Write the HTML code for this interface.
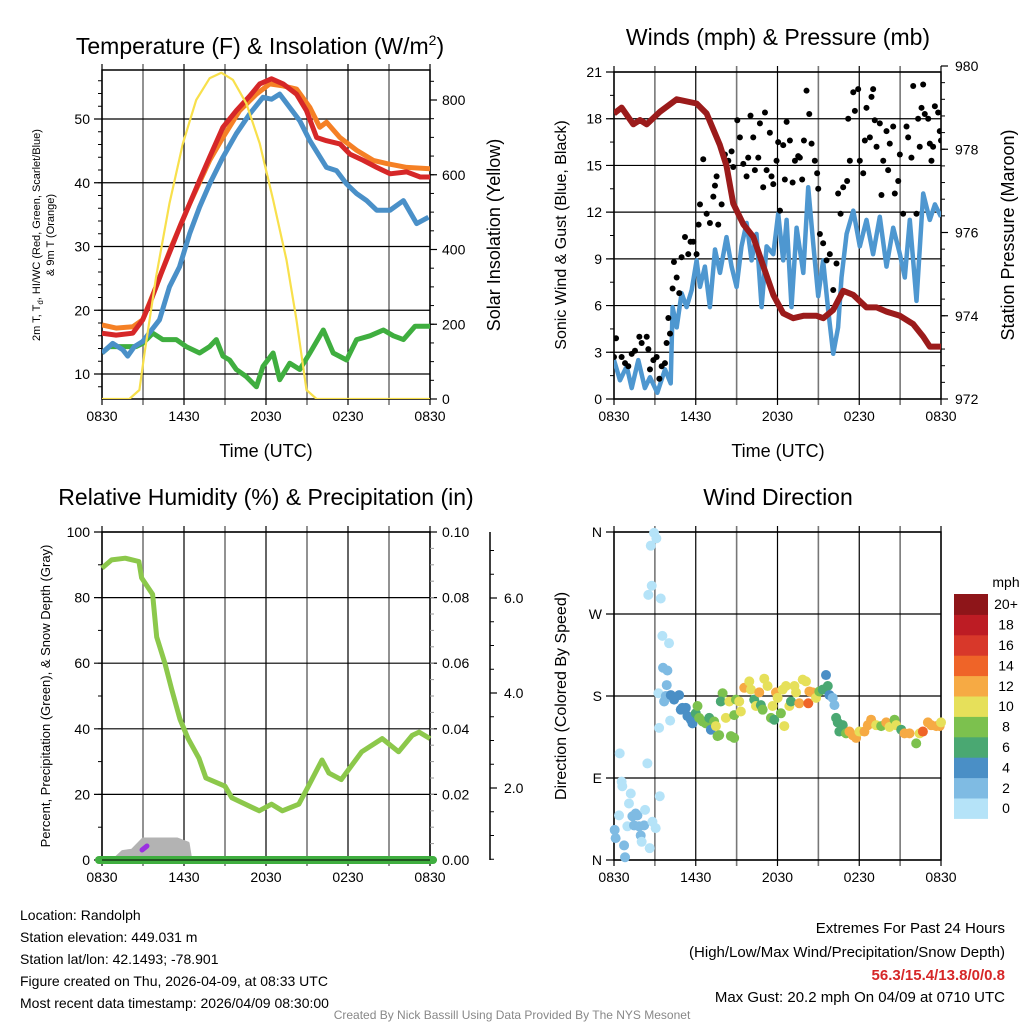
<!DOCTYPE html>
<html><head><meta charset="utf-8"><style>
html,body{margin:0;padding:0;background:#fff;}
svg{display:block;font-family:"Liberation Sans",sans-serif;}
</style></head><body>
<svg id="c" width="1024" height="1024" viewBox="0 0 1024 1024"></svg>
<script>
// ---------- DATA ----------
const xTickLabels=["0830","1430","2030","0230","0830"];
const redHours=[0,1.03,2.25,2.98,3.59,4.33,5.06,5.79,6.41,7.14,7.87,8.85,9.83,10.81,11.54,12.4,13.25,14.23,14.96,15.7,16.43,17.41,18.14,19.12,20.1,21.08,22.3,23.28,24];
const redTemps=[16.4,16.1,16.4,18.5,21.6,25.8,29.7,33.6,36.7,40.4,44,48.7,51.3,53.6,55.5,56.3,55.5,53.9,51.3,47.1,46.6,46.1,44.5,43.5,42.4,41.4,41.7,40.9,40.9];
const orangeHours=[0,1.03,2.25,2.98,3.96,5.06,6.41,7.87,8.85,10.07,11.3,12.27,13.25,14.23,15.21,15.94,16.43,17.41,18.63,19.85,20.83,22.3,24];
const orangeTemps=[17.7,17.2,17.4,18.5,23.7,29.9,36.7,43.5,47.1,51.3,53.9,55.5,55.2,54.7,51.8,48.7,49.5,47.1,45.1,43.5,43.0,42.4,42.2];
const blueHours=[0,0.78,1.52,1.88,2.37,2.98,4.21,4.94,5.67,6.41,7.14,7.87,8.85,9.83,10.81,11.78,12.4,13.0,13.74,14.47,15.21,15.82,16.43,17.16,17.9,18.63,19.36,20.1,21.08,22.05,23.03,23.89];
const blueTemps=[13.3,14.8,13.8,12.8,14.3,15.1,18.5,23.7,26.8,32,36.2,39.8,44,47.7,50.8,53.4,53.1,53.9,51.8,49.7,46.6,44.5,42.4,41.9,39.8,38.3,37.2,35.7,35.7,37.2,33.6,34.6];
const greenHours=[0,0.54,1.52,2.49,2.98,3.72,4.45,5.43,6.16,7.14,7.87,8.36,8.85,9.34,9.83,10.56,11.3,11.78,12.52,13.0,13.74,14.47,15.21,16.19,16.92,17.9,18.63,19.61,20.59,21.32,22.05,22.91,24];
const greenTemps=[13.3,14.3,14.3,14.3,14.8,16.4,15.4,15.4,14.3,13.3,14.3,15.4,12.8,12.2,10.7,9.6,8.0,11.2,13.3,9.1,11.7,10.7,13.3,16.9,13.3,12.2,15.4,16.0,16.9,16.0,15.4,17.5,17.5];
const solarHours=[0,2.0,2.74,3.11,3.96,4.94,5.92,6.89,7.87,8.73,9.58,10.56,11.54,12.52,13.5,14.23,14.96,15.7,24];
const solarValues=[0,0,24,122,327,524,684,800,858,873,854,791,684,533,372,211,24,0,0];
const pressHours=[0,0.56,1.42,1.91,2.4,3.37,4.6,6.06,6.8,7.77,8.26,8.75,9.49,10.22,10.95,11.69,12.42,13.15,13.89,14.87,15.36,16.09,16.82,17.56,18.53,19.27,20.0,20.98,21.96,22.69,23.18,24];
const pressValues=[978.86,979.0,978.6,978.7,978.6,978.9,979.2,979.1,978.86,978.1,977.6,976.7,976.2,975.9,975.2,974.5,974.06,973.94,974.0,974.0,973.94,974.14,974.6,974.5,974.2,974.2,974.1,974.0,973.8,973.5,973.26,973.26];
const windHours=[0,0.44,0.93,1.30,1.78,2.27,2.64,3.18,3.74,4.16,4.30,4.60,4.96,5.33,5.70,6.06,6.31,6.67,7.04,7.41,7.78,8.26,8.63,9.0,9.36,9.73,10.10,10.46,10.83,11.20,11.69,12.05,12.42,12.67,13.03,13.40,13.89,14.25,14.62,14.99,15.35,15.72,16.09,16.45,16.70,17.07,17.56,18.04,18.53,19.02,19.51,20.0,20.49,20.98,21.34,21.71,22.20,22.69,23.18,23.55,24];
const windSpeeds=[2.5,1.2,2.1,0.7,2.5,0.7,1.4,0.4,1.9,1.0,5.9,4.6,6.8,5.9,7.0,8.9,7.2,8.5,5.9,9.6,8.1,10.4,8.5,7.2,9.8,11.3,8.9,10.6,5.9,9.8,9.3,11.9,8.9,11.5,5.9,11.0,8.1,13.6,10.0,6.6,8.9,5.7,2.9,4.6,7.8,10.6,12.1,9.8,11.5,9.3,11.7,8.5,11.0,9.3,7.8,11.5,6.3,13.2,11.5,12.5,11.7];
const gustHours=[0,0.15,0.56,0.81,1.05,1.3,1.54,1.86,2.03,2.4,2.52,2.64,2.89,3.13,3.33,3.5,3.74,3.86,3.99,4.11,4.3,4.4,4.6,4.79,4.96,5.21,5.45,5.62,5.82,6.06,6.21,6.31,6.55,6.8,7.04,7.29,7.41,7.53,7.65,7.9,8.14,8.39,8.63,8.75,9.05,9.24,9.49,9.73,9.85,10.02,10.22,10.34,10.59,10.71,10.95,11.08,11.2,11.44,11.56,11.69,11.93,12.05,12.18,12.42,12.54,12.67,12.91,13.11,13.28,13.52,13.64,13.81,13.94,14.13,14.33,14.5,14.74,14.91,14.99,15.11,15.35,15.6,15.84,16.09,16.33,16.45,16.63,16.82,17.11,17.19,17.31,17.56,17.68,17.92,18.04,18.29,18.41,18.53,18.78,18.9,19.02,19.14,19.27,19.51,19.63,19.76,20.0,20.12,20.24,20.49,20.61,20.86,20.98,21.22,21.47,21.59,21.83,21.96,22.2,22.32,22.44,22.57,22.69,22.81,23.06,23.18,23.3,23.42,23.55,23.79,23.91,24];
const gustSpeeds=[2.7,3.9,2.7,2.3,2.1,2.9,3.1,4.0,3.6,4.0,3.2,1.9,2.5,2.7,1.3,2.1,2.3,3.6,5.2,4.2,7.1,8.8,7.8,6.8,9.1,10.4,9.3,10.1,10.1,9.3,11.2,12.5,15.4,11.9,11.3,13.0,13.7,14.3,11.2,12.5,15.7,15.3,15.9,14.9,17.9,16.8,15.1,14.3,15.5,18.2,16.8,14.7,15.5,17.7,13.6,18.4,14.7,17.1,14.3,13.8,15.3,16.5,12.1,16.3,14.1,17.8,16.6,13.9,15.3,15.6,15.5,14.1,16.6,19.8,18.3,16.4,15.3,14.5,13.5,10.6,10.0,8.9,9.3,7.0,8.7,13.2,11.9,13.6,14.0,18.0,15.3,19.7,18.5,19.9,15.3,14.5,16.6,18.7,16.8,19.4,19.9,17.9,16.2,17.7,13.1,15.3,17.2,14.7,16.4,17.5,13.2,14.0,15.7,11.9,17.5,16.8,15.5,20.1,11.9,18.0,16.2,18.7,20.2,18.3,18.0,16.4,15.3,16.2,18.8,18.4,17.2,16.6];
const rhHours=[0,0.7,1.7,2.7,2.9,3.7,4.0,4.6,5.1,5.7,6.3,7.1,7.6,9.0,9.5,11.5,12.4,13.2,14.4,15.1,16.1,16.6,17.5,19.0,20.5,21.7,22.7,23.2,24];
const rhValues=[89,91.5,92,91,86,81,68,60,52,43,37,31,25,22.5,19,15,17,15,17,22.5,30.5,26.5,24.5,33,37,33,38,39,37];
const snowHours=[0.9,1.5,2.2,3.0,5.5,6.3,6.5];
const snowDepth=[0.03,0.3,0.35,0.75,0.75,0.6,0];
const dirHours=[0.05,0.12,0.37,0.42,0.56,0.61,0.74,0.81,0.98,1.10,1.23,1.35,1.47,1.59,1.72,1.84,1.96,2.03,2.21,2.28,2.45,2.62,2.82,2.94,3.11,2.70,2.77,2.52,3.06,3.36,3.43,3.31,3.55,4.04,3.60,3.92,3.87,4.12,3.26,3.68,3.80,4.17,4.41,4.78,4.90,5.02,5.27,5.39,5.64,5.76,6.00,6.13,6.25,6.50,6.74,6.99,7.11,7.35,7.48,7.60,7.72,7.97,7.84,8.21,8.46,8.58,8.82,8.82,8.95,9.19,9.31,9.56,9.93,10.05,10.29,10.42,10.66,10.78,10.91,11.03,11.27,11.52,11.64,11.76,11.89,12.01,12.25,12.38,12.50,12.62,12.87,12.99,13.24,13.36,13.60,13.85,14.09,14.26,14.34,14.58,14.83,15.07,15.32,15.56,15.69,15.81,16.05,16.18,16.30,16.42,16.54,16.79,17.03,17.28,17.52,17.77,18.01,18.38,18.63,18.87,19.24,19.61,19.98,20.22,20.59,20.71,21.08,21.32,21.69,22.18,22.43,22.67,23.04,23.28,23.65,23.90,24.0];
const dirDegrees=[33,24,49,117,86,81,16,3,37,62,73,48,38,51,49,37,27,20,38,55,106,13,42,359,353,345,301,291,35,70,287,145,246,238,211,208,192,153,183,174,180,181,176,181,165,167,167,158,154,150,161,169,156,152,150,156,143,152,147,136,137,183,174,156,174,136,134,159,176,174,163,189,196,187,176,169,184,170,165,199,191,156,169,154,184,178,161,187,147,191,169,174,191,184,172,198,196,172,185,184,178,185,187,203,191,181,178,170,156,151,141,148,139,141,137,134,141,141,148,154,148,147,151,146,154,148,143,139,139,128,139,141,151,148,147,147,151];
const dirSpeeds=[3,3,1,1,1,1,3,3,1,1,1,3,3,3,3,3,3,1,3,1,1,1,1,1,1,1,1,1,1,1,1,1,1,1,3,3,3,1,1,3,3,4,5,4,4,5,5,5,5,5,7,8,8,8,8,7,5,8,10,8,8,8,7,10,10,8,8,8,9,10,10,13,10,10,7,10,13,7,9,10,10,8,10,7,13,10,8,10,10,10,10,7,10,10,13,10,10,15,13,12,10,8,6,4,6,4,2,2,6,7,6,7,8,12,12,12,10,12,12,13,10,8,12,10,8,10,7,12,13,8,10,15,12,12,13,12,10];
const cbLabels=["0","2","4","6","8","10","12","14","16","18","20+"];
const cbColors=["#b5e3f8","#7fbbe3","#4a8fc6","#4aa872","#7cc14e","#e6e05a","#f6aa44","#ef6428","#d8382a","#bd1c24","#8e1519"];

// ---------- HELPERS ----------
const svg=document.getElementById('c');
const NS="http://www.w3.org/2000/svg";
function el(tag,attrs,parent){const e=document.createElementNS(NS,tag);for(const k in attrs)e.setAttribute(k,attrs[k]);(parent||svg).appendChild(e);return e;}
function txt(s,x,y,size,anchor,extra,parent){const t=el('text',Object.assign({x:x,y:y,'font-size':size,'text-anchor':anchor||'middle',fill:'#000'},extra||{}),parent);t.textContent=s;return t;}
function lin(a,b,c,d){return v=>c+(v-a)*(d-c)/(b-a);}
function pathFrom(xs,ys,fx,fy){return xs.map((h,i)=>(i?'L':'M')+fx(h).toFixed(1)+','+fy(ys[i]).toFixed(1)).join('');}

function panelFrame(g,x0,x1,y0,y1,yTicks,fy,yLabels,minorStep,minorRange){
  const fx=lin(0,24,x0,x1);
  for(let h=0;h<=24;h+=3){el('line',{x1:fx(h),x2:fx(h),y1:y0-6,y2:y1+6,stroke:h%6?'#777':'#000','stroke-width':h%6?1.6:1.2},g);}
  yTicks.forEach((v,i)=>{el('line',{x1:x0-8,x2:x1,y1:fy(v),y2:fy(v),stroke:'#000','stroke-width':1.2},g);
    txt(yLabels[i],x0-12,fy(v)+5,14,'end',{},g);});
  if(minorStep){for(let v=minorRange[0];v<=minorRange[1];v+=minorStep){el('line',{x1:x0-4,x2:x0,y1:fy(v),y2:fy(v),stroke:'#000','stroke-width':1},g);}}
  el('rect',{x:x0,y:y0,width:x1-x0,height:y1-y0,fill:'none',stroke:'#000','stroke-width':1.5},g);
  xTickLabels.forEach((s,i)=>txt(s,fx(i*6),y1+22,14,'middle',{},g));
  return fx;
}

// ---------- PANEL 1 ----------
(function(){
  const g=el('g',{});
  const x0=102,x1=430,y0=70,y1=399;
  const fy=lin(10,50,374,119);
  const fs=lin(0,800,399,100);
  const fx=panelFrame(g,x0,x1,y0,y1,[10,20,30,40,50],fy,["10","20","30","40","50"],2,[8,56]);
  [0,200,400,600,800].forEach(v=>{el('line',{x1:x1,x2:x1+7,y1:fs(v),y2:fs(v),stroke:'#000','stroke-width':1.2},g);txt(String(v),x1+12,fs(v)+5,14,'start',{},g);});
  for(let v=50;v<=850;v+=50){el('line',{x1:x1,x2:x1+4,y1:fs(v),y2:fs(v),stroke:'#000'},g);}
  const clip=el('clipPath',{id:'cp1'},g);el('rect',{x:x0,y:y0,width:x1-x0,height:y1-y0},clip);
  const cg=el('g',{'clip-path':'url(#cp1)'},g);
  let p=el('path',{d:pathFrom(greenHours,greenTemps,fx,fy),fill:'none',stroke:'#3fae3f','stroke-width':5,'stroke-linejoin':'round'},cg);
  
  p=el('path',{d:pathFrom(blueHours,blueTemps,fx,fy),fill:'none',stroke:'#4a90c8','stroke-width':5,'stroke-linejoin':'round'},cg);
  
  p=el('path',{d:pathFrom(orangeHours,orangeTemps,fx,fy),fill:'none',stroke:'#f58025','stroke-width':5,'stroke-linejoin':'round'},cg);
  
  p=el('path',{d:pathFrom(redHours,redTemps,fx,fy),fill:'none',stroke:'#d62728','stroke-width':5,'stroke-linejoin':'round'},cg);
  
  p=el('path',{d:pathFrom(solarHours,solarValues,fx,fs),fill:'none',stroke:'#f8e04c','stroke-width':2.2,'stroke-linejoin':'round'},cg);
  
  const t=txt('Temperature (F) & Insolation (W/m',260,54,23,'middle',{},g);
  const sup=el('tspan',{dy:-9,'font-size':14},t);sup.textContent='2';const cl=el('tspan',{dy:9},t);cl.textContent=')';
  txt('Time (UTC)',266,457,18,'middle',{},g);
  const yl=el('text',{transform:'translate(40,235) rotate(-90)','font-size':11,'text-anchor':'middle',},g);
  yl.innerHTML='2m T, T<tspan dy="3" font-size="8">d</tspan><tspan dy="-3">, HI/WC (Red, Green, Scarlet/Blue)</tspan>';
  txt('& 9m T (Orange)',0,0,11,'middle',{transform:'translate(54,235) rotate(-90)',},g);
  txt('Solar Insolation (Yellow)',0,0,18,'middle',{transform:'translate(500,235) rotate(-90)',},g);
})();

// ---------- PANEL 2 ----------
(function(){
  const g=el('g',{});
  const x0=614,x1=941,y0=72,y1=399;
  const fy=lin(0,21,399,72);
  const fp=lin(972,980,399,66);
  const fx=panelFrame(g,x0,x1,y0,y1,[0,3,6,9,12,15,18,21],fy,["0","3","6","9","12","15","18","21"],1.5,[0,21]);
  [972,974,976,978,980].forEach(v=>{el('line',{x1:x1,x2:x1+7,y1:fp(v),y2:fp(v),stroke:'#000','stroke-width':1.2},g);txt(String(v),x1+14,fp(v)+5,14,'start',{},g);});
  for(let v=972.4;v<980;v+=0.4){el('line',{x1:x1,x2:x1+4,y1:fp(v),y2:fp(v),stroke:'#000'},g);}
  const clip=el('clipPath',{id:'cp2'},g);el('rect',{x:x0,y:y0,width:x1-x0,height:y1-y0},clip);
  const cg=el('g',{'clip-path':'url(#cp2)'},g);
  let p=el('path',{d:pathFrom(windHours,windSpeeds,fx,fy),fill:'none',stroke:'#4e97d0','stroke-width':4.5,'stroke-linejoin':'round'},cg);
  
  gustHours.forEach((h,i)=>{const c=el('circle',{cx:fx(h),cy:fy(gustSpeeds[i]),r:3,fill:'#000'},cg);
    
    });
  p=el('path',{d:pathFrom(pressHours,pressValues,fx,fp),fill:'none',stroke:'#9b1b1b','stroke-width':6,'stroke-linejoin':'round'},cg);
  
  txt('Winds (mph) & Pressure (mb)',778,45,23,'middle',{},g);
  txt('Time (UTC)',778,457,18,'middle',{},g);
  txt('Sonic Wind & Gust (Blue, Black)',0,0,16,'middle',{transform:'translate(566,235) rotate(-90)',},g);
  txt('Station Pressure (Maroon)',0,0,18,'middle',{transform:'translate(1014,235) rotate(-90)',},g);
})();

// ---------- PANEL 3 ----------
(function(){
  const g=el('g',{});
  const x0=102,x1=430,y0=532,y1=860;
  const fy=lin(0,100,860,532);
  const fx=panelFrame(g,x0,x1,y0,y1,[0,20,40,60,80,100],fy,["0","20","40","60","80","100"],10,[0,100]);
  const fr=lin(0,0.1,860,532);
  [0,0.02,0.04,0.06,0.08,0.10].forEach(v=>{el('line',{x1:x1,x2:x1+7,y1:fr(v),y2:fr(v),stroke:'#000','stroke-width':1.2},g);txt(v.toFixed(2),x1+12,fr(v)+5,14,'start',{},g);});
  for(let v=0.005;v<0.1;v+=0.005){el('line',{x1:x1,x2:x1+4,y1:fr(v),y2:fr(v),stroke:'#999'},g);}
  const fsd=lin(0,2,883,788);
  el('line',{x1:490,x2:490,y1:532,y2:860,stroke:'#000','stroke-width':1.5},g);
  [2,4,6].forEach(v=>{el('line',{x1:490,x2:497,y1:fsd(v),y2:fsd(v),stroke:'#000','stroke-width':1.2},g);txt(v.toFixed(1),504,fsd(v)+5,14,'start',{},g);});
  for(let v=0.5;v<=7;v+=0.5){el('line',{x1:490,x2:494,y1:fsd(v),y2:fsd(v),stroke:'#000'},g);}
  const fsn=lin(0,1,860,832);
  let d='M'+fx(snowHours[0])+',860'+snowHours.map((h,i)=>'L'+fx(h).toFixed(1)+','+fsn(snowDepth[i]).toFixed(1)).join('')+'Z';
  let p=el('path',{d:d,fill:'#b3b3b3',stroke:'#b3b3b3','stroke-width':3,'stroke-linejoin':'round'},g);
  
  el('line',{x1:142,y1:850,x2:147,y2:846,stroke:'#9b30e0','stroke-width':5,'stroke-linecap':'round',},g);
  p=el('path',{d:pathFrom(rhHours,rhValues,fx,fy),fill:'none',stroke:'#8cc84b','stroke-width':5,'stroke-linejoin':'round'},g);
  
  el('line',{x1:x0-3,x2:x1+3,y1:860,y2:860,stroke:'#3fae3f','stroke-width':8,'stroke-linecap':'round',},g);
  el('line',{x1:x0,x2:x1,y1:860,y2:860,stroke:'#000','stroke-width':1},g);
  txt('Relative Humidity (%) & Precipitation (in)',266,505,23,'middle',{},g);
  txt('Percent, Precipitation (Green), & Snow Depth (Gray)',0,0,13,'middle',{transform:'translate(50,696) rotate(-90)',},g);
})();

// ---------- PANEL 4 ----------
(function(){
  const g=el('g',{});
  const x0=614,x1=941,y0=532,y1=860;
  const fy=lin(0,360,860,532);
  const fx=panelFrame(g,x0,x1,y0,y1,[0,90,180,270,360],fy,["N","E","S","W","N"],0,null);
  function colorFor(s){let i=Math.floor(s/2);if(i>10)i=10;if(i<0)i=0;return cbColors[i];}
  const clip=el('clipPath',{id:'cp4'},g);el('rect',{x:x0-5,y:y0-5,width:x1-x0+10,height:y1-y0+10},clip);
  const cg=el('g',{'clip-path':'url(#cp4)'},g);
  dirHours.forEach((h,i)=>{const c=el('circle',{cx:fx(h),cy:fy(dirDegrees[i]),r:5,fill:colorFor(dirSpeeds[i])},cg);
    
    });
  txt('Wind Direction',778,505,23,'middle',{},g);
  txt('Direction (Colored By Speed)',0,0,16,'middle',{transform:'translate(566,696) rotate(-90)',},g);
  const lg=el('g',{});
  const top=594,bh=20.4;
  txt('mph',1006,587,14,'middle',{},lg);
  cbLabels.forEach((s,i)=>{const y=top+(10-i)*bh;
    el('rect',{x:954,y:y,width:34,height:bh+0.5,fill:cbColors[i],},lg);
    txt(s,1006,y+bh/2+5,14,'middle',{},lg);});
})();

// ---------- FOOTER ----------
(function(){
  const g=el('g',{});
  ["Location: Randolph","Station elevation: 449.031 m","Station lat/lon: 42.1493; -78.901","Figure created on Thu, 2026-04-09, at 08:33 UTC","Most recent data timestamp: 2026/04/09 08:30:00"].forEach((s,i)=>txt(s,20,920+i*22,14,'start',{},g));
  const r=el('g',{});
  txt('Extremes For Past 24 Hours',1005,933,15,'end',{},r);
  txt('(High/Low/Max Wind/Precipitation/Snow Depth)',1005,957,15,'end',{},r);
  txt('56.3/15.4/13.8/0/0.8',1005,980,15,'end',{fill:'#d62728','font-weight':'bold'},r);
  txt('Max Gust: 20.2 mph On 04/09 at 0710 UTC',1005,1002,15,'end',{},r);
  txt('Created By Nick Bassill Using Data Provided By The NYS Mesonet',512,1019,12,'middle',{fill:'#888',});
})();
</script>
</body></html>
